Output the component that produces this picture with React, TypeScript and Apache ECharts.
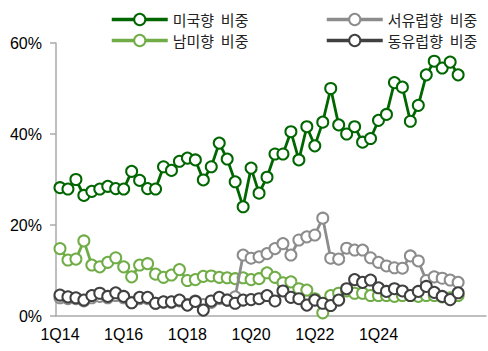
import React, { useEffect, useRef } from "react";
import * as echarts from "echarts";

// Quarter categories 1Q14 .. 2Q27 (axis extends past the data)
const years = [14, 15, 16, 17, 18, 19, 20, 21, 22, 23, 24, 25, 26, 27];
const categories: string[] = [];
years.forEach((y) => [1, 2, 3, 4].forEach((q) => categories.push(`${q}Q${y}`)));
const axisCategories = categories.slice(0, 54);

// Tick labels shown on the x axis
const xTickLabels = ["1Q14", "1Q16", "1Q18", "1Q20", "1Q22", "1Q24"];
const yTicks = [0, 20, 40, 60];

// 미국향 비중 (US share, %)
const usShare = [
  28.2, 27.9, 30.0, 26.5, 27.4, 27.9, 28.5, 28.0, 27.9, 31.8,
  29.8, 28.0, 27.9, 32.8, 32.0, 34.0, 34.7, 34.3, 29.9, 32.8,
  38.0, 34.5, 29.5, 24.0, 32.5, 27.0, 30.5, 35.6, 35.6, 40.5,
  34.3, 41.6, 37.4, 42.6, 50.0, 42.0, 40.0, 41.6, 38.2, 39.0,
  43.0, 44.3, 51.3, 50.3, 42.8, 46.3, 53.0, 56.0, 54.5, 55.8,
  53.0,
];

// 남미향 비중 (South America share, %)
const saShare = [
  14.8, 12.3, 12.5, 16.5, 11.2, 10.8, 11.8, 12.8, 10.8, 8.6,
  11.2, 11.5, 9.2, 8.5, 9.0, 10.2, 7.8, 8.0, 8.7, 8.8,
  8.5, 8.4, 8.2, 8.4, 8.0, 8.2, 9.5, 8.5, 7.3, 7.5,
  6.0, 5.7, 3.8, 0.7, 4.5, 5.0, 5.5, 5.0, 5.0, 4.5,
  4.5, 4.5, 4.3, 4.5, 4.5, 4.3, 4.5, 4.5, 4.2, 4.0,
  4.5,
];

// 서유럽향 비중 (Western Europe share, %)
const weShare = [
  4.0, 3.8, 3.8, 3.3, 4.0, 4.3, 4.0, 4.5, 4.0, 3.0,
  3.8, 3.8, 2.8, 3.0, 3.0, 3.3, 2.5, 3.3, 2.5, 3.0,
  3.8, 3.5, 4.2, 13.4, 12.7, 13.0, 13.7, 14.8, 15.9, 13.4,
  16.7, 17.4, 17.8, 21.5, 12.7, 12.5, 14.9, 14.5, 14.5, 12.8,
  11.8, 11.0, 10.6, 10.5, 13.2, 12.1, 7.8, 8.6, 8.3, 7.9,
  7.4,
];

// 동유럽향 비중 (Eastern Europe share, %)
const eeShare = [
  4.6, 4.2, 4.0, 3.5, 4.5, 5.0, 4.3, 5.1, 4.3, 2.9,
  4.1, 4.1, 2.8, 3.1, 3.1, 3.5, 2.4, 3.2, 1.3, 3.3,
  4.1, 3.5, 2.8, 3.5, 3.6, 3.8, 4.5, 3.3, 5.5, 4.1,
  3.8, 2.4, 3.5, 2.8, 2.3, 3.5, 6.0, 8.0, 7.4, 7.9,
  6.2, 5.4, 6.0, 5.5, 4.5, 5.4, 6.5, 5.2, 4.3, 3.6,
  5.1,
];

const names = ["미국향  비중", "남미향  비중", "서유럽향  비중", "동유럽향  비중"];
const colors = ["#006600", "#70AD47", "#8C8C8C", "#404040"];

export default function App() {
  const ref = useRef<HTMLDivElement>(null);

  useEffect(() => {
    if (!ref.current) return;
    const chart = echarts.init(ref.current, undefined, { renderer: "svg" });
    const axisColor = "#aaaaaa";
    const font = "'Liberation Sans', Arial, sans-serif";
    const legendText = {
      fontSize: 15,
      lineHeight: 15,
      fontFamily: "'Noto Sans CJK KR', sans-serif",
      color: "#222",
    };
    const mk = (i: number, data: number[]) => ({
      name: names[i],
      type: "line",
      data,
      symbol: "emptyCircle",
      symbolSize: 11,
      showAllSymbol: true,
      lineStyle: { width: 2.8, color: colors[i] },
      itemStyle: { color: colors[i], borderWidth: 2.8 },
      z: 2 + i,
    });
    const legendBase = {
      top: 7,
      orient: "vertical",
      itemWidth: 56,
      itemHeight: 14,
      itemGap: 6,
      textStyle: legendText,
      lineStyle: { width: 3.5 },
    };
    chart.setOption({
      animation: false,
      backgroundColor: "#fff",
      grid: { left: 56, right: 2, top: 43, bottom: 35, containLabel: false },
      legend: [
        { ...legendBase, left: 105, data: [names[0], names[1]] },
        { ...legendBase, left: 320, data: [names[2], names[3]] },
      ],
      xAxis: {
        type: "category",
        data: axisCategories,
        boundaryGap: true,
        axisLine: { lineStyle: { color: axisColor, width: 1.5 } },
        axisTick: { interval: 0, length: 5, lineStyle: { color: axisColor, width: 1.5 } },
        axisLabel: {
          interval: (_idx: number, value: string) => xTickLabels.includes(value),
          margin: 10,
          fontSize: 16,
          fontFamily: font,
          color: "#000",
        },
        splitLine: { show: false },
      },
      yAxis: {
        type: "value",
        min: yTicks[0],
        max: yTicks[yTicks.length - 1],
        interval: 20,
        axisLine: { show: true, lineStyle: { color: axisColor, width: 1.5 } },
        axisTick: { show: true, length: 6, lineStyle: { color: axisColor, width: 1.5 } },
        axisLabel: {
          formatter: "{value}%",
          margin: 14,
          fontSize: 16,
          fontFamily: font,
          color: "#000",
        },
        splitLine: { show: false },
      },
      series: [mk(0, usShare), mk(1, saShare), mk(2, weShare), mk(3, eeShare)],
    });
    return () => chart.dispose();
  }, []);

  return (
    <div
      ref={ref}
      style={{ position: "absolute", left: 0, top: 0, width: 488, height: 351 }}
    />
  );
}
